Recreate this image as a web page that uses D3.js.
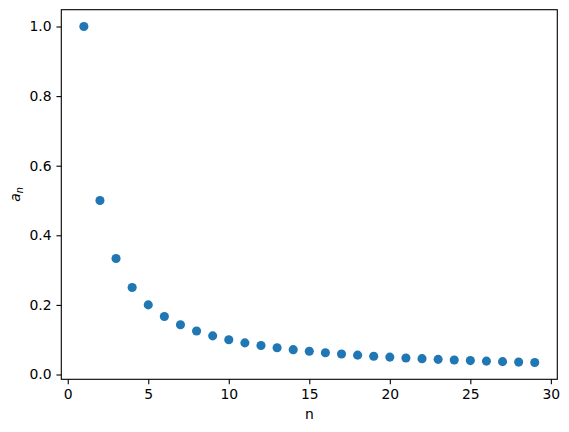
<!DOCTYPE html>
<html><head><meta charset="utf-8">
<script src="https://cdn.jsdelivr.net/npm/d3@7"></script>
<style>body{margin:0;background:#fff}svg{display:block}text{font-family:"DejaVu Sans",sans-serif}</style>
</head><body>
<script>
const nValues = [1,2,3,4,5,6,7,8,9,10,11,12,13,14,15,16,17,18,19,20,21,22,23,24,25,26,27,28,29];
const aValues = [1.0,0.5,0.3333,0.25,0.2,0.1667,0.1429,0.125,0.1111,0.1,0.0909,0.0833,0.0769,0.0714,0.0667,0.0625,0.0588,0.0556,0.0526,0.05,0.0476,0.0455,0.0435,0.0417,0.04,0.0385,0.037,0.0357,0.0345];
const xTicks = [0,5,10,15,20,25,30];
const yTicks = [0.0,0.2,0.4,0.6,0.8,1.0];

const W = 569, H = 432;
const L = 61.3, R = 557.3, T = 9.7, B = 379.3;
const svg = d3.select("body").append("svg").attr("width", W).attr("height", H);

const xMin = d3.min(nValues), xMax = d3.max(nValues), xp = (xMax - xMin) * 0.05;
const yMin = d3.min(aValues), yMax = d3.max(aValues), yp = (yMax - yMin) * 0.05;
const x = d3.scaleLinear().domain([xMin - xp, xMax + xp]).range([L, R]);
const y = d3.scaleLinear().domain([yMin - yp, yMax + yp]).range([B, T]);

const fs = "13.9px";
const xAxis = svg.append("g").attr("transform", `translate(0,${B})`)
  .call(d3.axisBottom(x).tickValues(xTicks).tickFormat(d3.format("d")).tickSize(4.86).tickPadding(4.9));
const yAxis = svg.append("g").attr("transform", `translate(${L},0)`)
  .call(d3.axisLeft(y).tickValues(yTicks).tickFormat(d3.format(".1f")).tickSize(4.86).tickPadding(4.9));
[xAxis, yAxis].forEach(g => {
  g.select(".domain").remove();
  g.selectAll("line").attr("stroke", "#000").attr("stroke-width", 1.1);
  g.selectAll("text").attr("font-size", fs).attr("fill", "#000").attr("font-family", "DejaVu Sans");
});

svg.append("rect").attr("x", L).attr("y", T).attr("width", R - L).attr("height", B - T)
  .attr("fill", "none").attr("stroke", "#000").attr("stroke-width", 1.1);

svg.append("g").selectAll("circle").data(nValues).join("circle")
  .attr("cx", d => x(d)).attr("cy", (d, i) => y(aValues[i]))
  .attr("r", 4.55).attr("fill", "#1f77b4");

svg.append("text").attr("x", (L + R) / 2).attr("y", 418.5).attr("text-anchor", "middle")
  .attr("font-size", fs).attr("fill", "#000").text("n");

const yl = svg.append("text").attr("transform", `translate(19.5,${(T + B) / 2}) rotate(-90)`)
  .attr("text-anchor", "middle").attr("font-size", fs).attr("fill", "#000")
  .attr("font-style", "italic");
yl.append("tspan").text("a");
yl.append("tspan").attr("font-size", "9.7px").attr("dy", "3").text("n");
</script>
</body></html>
